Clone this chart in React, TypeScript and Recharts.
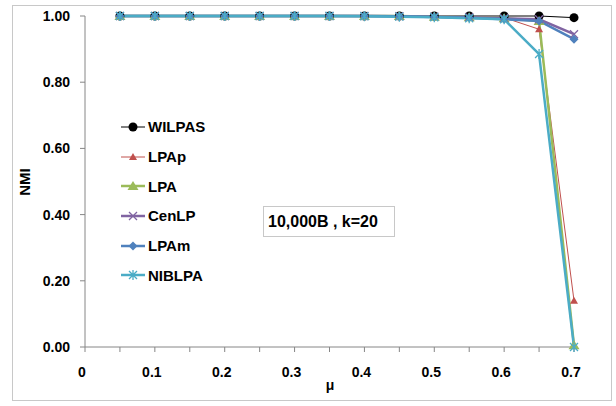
import { Line, LineChart, XAxis, YAxis } from "recharts";

// μ の刻み（0.05 ごと）
const muValues = [0.05, 0.1, 0.15, 0.2, 0.25, 0.3, 0.35, 0.4, 0.45, 0.5, 0.55, 0.6, 0.65, 0.7];

const wilpas = [1, 1, 1, 1, 1, 1, 1, 1, 1, 1, 1, 1, 1, 0.995];
const lpap = [1, 1, 1, 1, 1, 1, 1, 1, 1, 0.998, 0.997, 0.995, 0.96, 0.14];
const lpa = [1, 1, 1, 1, 1, 1, 1, 1, 1, 0.998, 0.996, 0.993, 0.985, 0.005];
const cenlp = [1, 1, 1, 1, 1, 1, 1, 1, 0.999, 0.998, 0.996, 0.993, 0.99, 0.945];
const lpam = [1, 1, 1, 1, 1, 1, 1, 1, 0.999, 0.997, 0.995, 0.99, 0.985, 0.93];
const niblpa = [1, 1, 1, 1, 1, 1, 1, 0.999, 0.998, 0.996, 0.993, 0.99, 0.885, 0];

const xTicks = [0, 0.05, 0.1, 0.15, 0.2, 0.25, 0.3, 0.35, 0.4, 0.45, 0.5, 0.55, 0.6, 0.65, 0.7];
const yTicks = [0, 0.2, 0.4, 0.6, 0.8, 1];

const FONT = '"Liberation Sans", Arial, sans-serif';

const rows = muValues.map((mu, i) => ({
  mu,
  WILPAS: wilpas[i],
  LPAp: lpap[i],
  LPA: lpa[i],
  CenLP: cenlp[i],
  LPAm: lpam[i],
  NIBLPA: niblpa[i],
}));

type Shape = "circle" | "smallTri" | "tri" | "cross" | "diamond" | "star";

function Marker({ shape, color, cx, cy }: { shape: Shape; color: string; cx: number; cy: number }) {
  switch (shape) {
    case "circle":
      return <circle cx={cx} cy={cy} r={4.5} fill={color} />;
    case "smallTri":
      return <path d={`M${cx},${cy - 4} L${cx + 4},${cy + 3} L${cx - 4},${cy + 3} Z`} fill={color} />;
    case "tri":
      return <path d={`M${cx},${cy - 5} L${cx + 5.5},${cy + 4} L${cx - 5.5},${cy + 4} Z`} fill={color} />;
    case "cross":
      return (
        <path
          d={`M${cx - 4},${cy - 4} L${cx + 4},${cy + 4} M${cx - 4},${cy + 4} L${cx + 4},${cy - 4}`}
          stroke={color}
          strokeWidth={1.3}
        />
      );
    case "diamond":
      return <path d={`M${cx},${cy - 4.5} L${cx + 4.5},${cy} L${cx},${cy + 4.5} L${cx - 4.5},${cy} Z`} fill={color} />;
    case "star":
      return (
        <path
          d={`M${cx - 4},${cy - 4} L${cx + 4},${cy + 4} M${cx - 4},${cy + 4} L${cx + 4},${cy - 4} M${cx},${cy - 5} L${cx},${cy + 5}`}
          stroke={color}
          strokeWidth={1.3}
        />
      );
  }
}

const series: { key: string; color: string; width: number; shape: Shape }[] = [
  { key: "WILPAS", color: "#000000", width: 1, shape: "circle" },
  { key: "LPAp", color: "#C0504D", width: 1, shape: "smallTri" },
  { key: "LPA", color: "#9BBB59", width: 2.5, shape: "tri" },
  { key: "CenLP", color: "#8064A2", width: 2.5, shape: "cross" },
  { key: "LPAm", color: "#4F81BD", width: 2.5, shape: "diamond" },
  { key: "NIBLPA", color: "#4BACC6", width: 2.5, shape: "star" },
];

function dotFor(shape: Shape, color: string) {
  return (props: any) => {
    const { cx, cy, index } = props;
    if (cx == null || cy == null) return <g key={index} />;
    return (
      <g key={index}>
        <Marker shape={shape} color={color} cx={cx} cy={cy} />
      </g>
    );
  };
}

export default function App() {
  return (
    <div style={{ position: "absolute", left: 0, top: 0, width: 616, height: 406, background: "#fff", fontFamily: FONT }}>
      <div
        style={{
          position: "absolute",
          left: 12,
          top: 5,
          width: 600,
          height: 396,
          border: "1px solid #c8c8c8",
          boxSizing: "border-box",
        }}
      />
      <div style={{ position: "absolute", left: 0, top: 0 }}>
        <LineChart width={616} height={406} data={rows} margin={{ top: 16, right: 42, left: 0, bottom: 0 }}>
          <XAxis
            dataKey="mu"
            type="number"
            domain={[0, 0.7]}
            ticks={xTicks}
            interval={0}
            height={59}
            stroke="#868686"
            tickSize={5}
            tickMargin={15}
            tick={{ fill: "#000", fontSize: 14, fontWeight: "bold", fontFamily: FONT, dx: -3 }}
            tickFormatter={(v: number) => (Math.round(v * 100) % 10 === 0 ? String(Math.round(v * 10) / 10) : "")}
          />
          <YAxis
            type="number"
            domain={[0, 1]}
            ticks={yTicks}
            width={85}
            stroke="#868686"
            tickSize={5}
            tickMargin={10}
            tick={{ fill: "#000", fontSize: 14, fontWeight: "bold", fontFamily: FONT }}
            tickFormatter={(v: number) => v.toFixed(2)}
          />
          {series.map((s) => (
            <Line
              key={s.key}
              dataKey={s.key}
              stroke={s.color}
              strokeWidth={s.width}
              dot={dotFor(s.shape, s.color)}
              activeDot={false}
              isAnimationActive={false}
            />
          ))}
        </LineChart>
      </div>
      {/* 軸タイトル */}
      <div
        style={{
          position: "absolute",
          left: 24,
          top: 182,
          transform: "translate(-50%, -50%) rotate(-90deg)",
          fontWeight: "bold",
          fontSize: 15,
        }}
      >
        NMI
      </div>
      <div style={{ position: "absolute", left: 330, top: 385, transform: "translate(-50%, -50%)", fontWeight: "bold", fontSize: 14 }}>
        μ
      </div>
      {/* 凡例 */}
      <div style={{ position: "absolute", left: 120, top: 112 }}>
        {series.map((s) => (
          <div key={s.key} style={{ display: "flex", alignItems: "center", height: 29.7 }}>
            <svg width={26} height={14}>
              <line x1={1} y1={7} x2={25} y2={7} stroke={s.color} strokeWidth={s.width} />
              <Marker shape={s.shape} color={s.color} cx={13} cy={7} />
            </svg>
            <span style={{ fontWeight: "bold", fontSize: 15, marginLeft: 2 }}>{s.key}</span>
          </div>
        ))}
      </div>
      {/* 注記 */}
      <div
        style={{
          position: "absolute",
          left: 263,
          top: 206,
          width: 132,
          height: 31,
          border: "1px solid #c8c8c8",
          boxSizing: "border-box",
          display: "flex",
          alignItems: "center",
          paddingLeft: 4,
          fontWeight: "bold",
          fontSize: 16,
        }}
      >
        10,000B , k=20
      </div>
    </div>
  );
}
